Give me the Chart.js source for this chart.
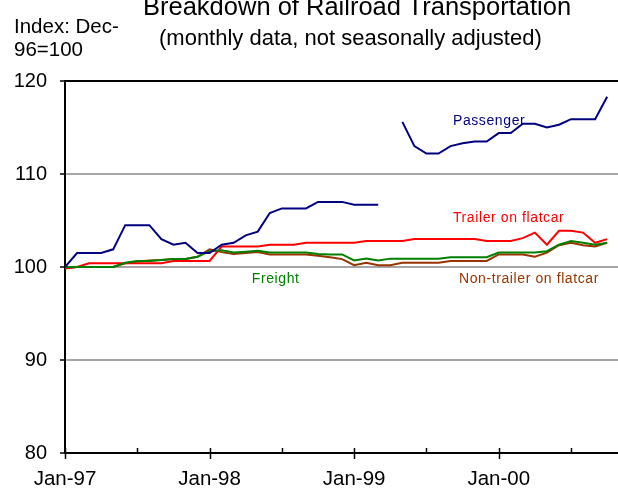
<!DOCTYPE html>
<html>
<head>
<meta charset="utf-8">
<script src="https://cdn.jsdelivr.net/npm/chart.js@4.4.0/dist/chart.umd.min.js"></script>
<style>
  html, body { margin: 0; padding: 0; background: #fff; overflow: hidden; }
  #wrap { position: relative; width: 618px; height: 493px; }
  #chart { position: absolute; left: 0; top: 0; }
  .txt { position: absolute; font-family: "Liberation Sans", Arial, sans-serif; color: #000; white-space: nowrap; line-height: 1; }
</style>
</head>
<body>
<div id="wrap">
  <canvas id="chart" width="618" height="493"></canvas>
  <div class="txt" style="left:143px; top:-6px; font-size:25.5px;">Breakdown of Railroad Transportation</div>
  <div class="txt" style="left:159px; top:27px; font-size:22px;">(monthly data, not seasonally adjusted)</div>
  <div class="txt" style="left:14px; top:16px; font-size:20.5px;">Index: Dec-</div>
  <div class="txt" style="left:14px; top:39px; font-size:20.5px;">96=100</div>
</div>
<script>
// monthly index, Dec-96 = 100
const months = [
  'Jan-97', 'Feb-97', 'Mar-97', 'Apr-97', 'May-97', 'Jun-97', 'Jul-97', 'Aug-97', 'Sep-97', 'Oct-97', 'Nov-97', 'Dec-97',
  'Jan-98', 'Feb-98', 'Mar-98', 'Apr-98', 'May-98', 'Jun-98', 'Jul-98', 'Aug-98', 'Sep-98', 'Oct-98', 'Nov-98', 'Dec-98',
  'Jan-99', 'Feb-99', 'Mar-99', 'Apr-99', 'May-99', 'Jun-99', 'Jul-99', 'Aug-99', 'Sep-99', 'Oct-99', 'Nov-99', 'Dec-99',
  'Jan-00', 'Feb-00', 'Mar-00', 'Apr-00', 'May-00', 'Jun-00', 'Jul-00', 'Aug-00', 'Sep-00', 'Oct-00'
];

const passenger = [
  100.0, 101.5, 101.5, 101.5, 101.9, 104.5, 104.5, 104.5, 103.0, 102.4, 102.6, 101.5,
  101.5, 102.4, 102.6, 103.4, 103.8, 105.8, 106.3, 106.3, 106.3, 107.0, 107.0, 107.0,
  106.7, 106.7, 106.7, null, 115.6, 113.0, 112.2, 112.2, 113.0, 113.3, 113.5, 113.5,
  114.4, 114.4, 115.4, 115.4, 115.0, 115.3, 115.9, 115.9, 115.9, 118.3
];

const trailer = [
  99.9, 100.0, 100.4, 100.4, 100.4, 100.4, 100.4, 100.4, 100.4, 100.65, 100.65, 100.65,
  100.65, 102.2, 102.2, 102.2, 102.2, 102.4, 102.4, 102.4, 102.6, 102.6, 102.6, 102.6,
  102.6, 102.8, 102.8, 102.8, 102.8, 103.0, 103.0, 103.0, 103.0, 103.0, 103.0, 102.8,
  102.8, 102.8, 103.1, 103.7, 102.4, 103.9, 103.9, 103.7, 102.6, 103.0
];

const freight = [
  100.0, 100.0, 100.0, 100.0, 100.0, 100.45, 100.65, 100.65, 100.75, 100.85, 100.85, 101.1,
  101.7, 101.8, 101.55, 101.65, 101.75, 101.55, 101.55, 101.55, 101.55, 101.4, 101.35, 101.35,
  100.7, 100.9, 100.7, 100.9, 100.9, 100.9, 100.9, 100.9, 101.05, 101.05, 101.05, 101.05,
  101.55, 101.55, 101.55, 101.55, 101.7, 102.4, 102.8, 102.6, 102.4, 102.6
];

const nonTrailer = [
  99.85, 100.0, 100.0, 100.0, 100.0, 100.4, 100.6, 100.7, 100.75, 100.85, 100.85, 101.1,
  101.9, 101.6, 101.4, 101.5, 101.6, 101.35, 101.35, 101.35, 101.35, 101.2, 101.05, 100.85,
  100.2, 100.45, 100.2, 100.2, 100.45, 100.45, 100.45, 100.45, 100.65, 100.65, 100.65, 100.65,
  101.35, 101.35, 101.35, 101.1, 101.55, 102.35, 102.6, 102.35, 102.2, 102.6
];

const yTicks = [80, 90, 100, 110, 120];

const FONT = '"Liberation Sans", Arial, sans-serif';

function toPoints(values) {
  return values.map(function(v, i) { return { x: i, y: v }; });
}

// series names written inside the plot, placed in data units
const seriesLabels = [
  { text: 'Passenger', x: 32.2, y: 115.7, color: '#000080' },
  { text: 'Trailer on flatcar', x: 32.2, y: 105.3, color: '#ff0000' },
  { text: 'Freight', x: 15.5, y: 98.7, color: '#008000' },
  { text: 'Non-trailer on flatcar', x: 32.7, y: 98.7, color: '#993300' }
];

const inlineLabels = {
  id: 'inlineLabels',
  afterDatasetsDraw: function(chart) {
    const ctx = chart.ctx;
    const xs = chart.scales.x;
    const ys = chart.scales.y;
    ctx.save();
    ctx.font = '14px ' + FONT;
    ctx.letterSpacing = '0.6px';
    ctx.textAlign = 'left';
    ctx.textBaseline = 'middle';
    seriesLabels.forEach(function(l) {
      ctx.fillStyle = l.color;
      ctx.fillText(l.text, xs.getPixelForValue(l.x), ys.getPixelForValue(l.y));
    });
    ctx.restore();
  }
};

// Jan ticks cross the axis, Jul ticks sit on top of it
const xTickMarks = {
  id: 'xTickMarks',
  afterDraw: function(chart) {
    const ctx = chart.ctx;
    const xs = chart.scales.x;
    const bottom = chart.chartArea.bottom;
    ctx.save();
    ctx.strokeStyle = '#000';
    ctx.lineWidth = 1.5;
    xs.ticks.forEach(function(t) {
      const px = Math.round(xs.getPixelForValue(t.value)) + 0.5;
      ctx.beginPath();
      ctx.moveTo(px, bottom - 5);
      ctx.lineTo(px, t.value % 12 === 0 ? bottom + 6 : bottom);
      ctx.stroke();
    });
    ctx.restore();
  }
};

const ctx = document.getElementById('chart');
new Chart(ctx, {
  type: 'line',
  data: {
    datasets: [
      { label: 'Passenger', data: toPoints(passenger), borderColor: '#000080' },
      { label: 'Freight', data: toPoints(freight), borderColor: '#008000' },
      { label: 'Trailer on flatcar', data: toPoints(trailer), borderColor: '#ff0000' },
      { label: 'Non-trailer on flatcar', data: toPoints(nonTrailer), borderColor: '#993300' }
    ]
  },
  options: {
    responsive: false,
    animation: false,
    spanGaps: false,
    layout: { padding: { top: 81, left: 0, right: 0, bottom: 0 } },
    elements: {
      line: { borderWidth: 2, tension: 0, fill: false },
      point: { radius: 0, hoverRadius: 0 }
    },
    plugins: {
      legend: { display: false },
      tooltip: { enabled: false }
    },
    scales: {
      x: {
        type: 'linear',
        min: 0,
        max: 45.9,
        afterFit: function(scale) { scale.height = 40; },
        afterBuildTicks: function(scale) {
          const t = [];
          for (let v = 0; v < months.length; v += 6) t.push({ value: v });
          scale.ticks = t;
        },
        grid: { display: false },
        border: { display: true, color: '#000', width: 2 },
        ticks: {
          autoSkip: false,
          maxRotation: 0,
          padding: 6,
          color: '#000',
          font: { family: FONT, size: 20.5 },
          callback: function(value) {
            return value % 12 === 0 ? months[value] : '';
          }
        }
      },
      y: {
        min: 80,
        max: 120,
        afterFit: function(scale) { scale.width = 65; },
        afterBuildTicks: function(scale) {
          scale.ticks = yTicks.map(function(v) { return { value: v }; });
        },
        grid: {
          color: function(c) { return c.tick && c.tick.value === 120 ? '#000' : '#a6a6a6'; },
          lineWidth: 2,
          tickColor: '#000',
          tickLength: 5,
          tickWidth: 1.5
        },
        border: { display: true, color: '#000', width: 2 },
        ticks: {
          padding: 13,
          color: '#000',
          font: { family: FONT, size: 20 }
        }
      }
    }
  },
  plugins: [inlineLabels, xTickMarks]
});
</script>
</body>
</html>
